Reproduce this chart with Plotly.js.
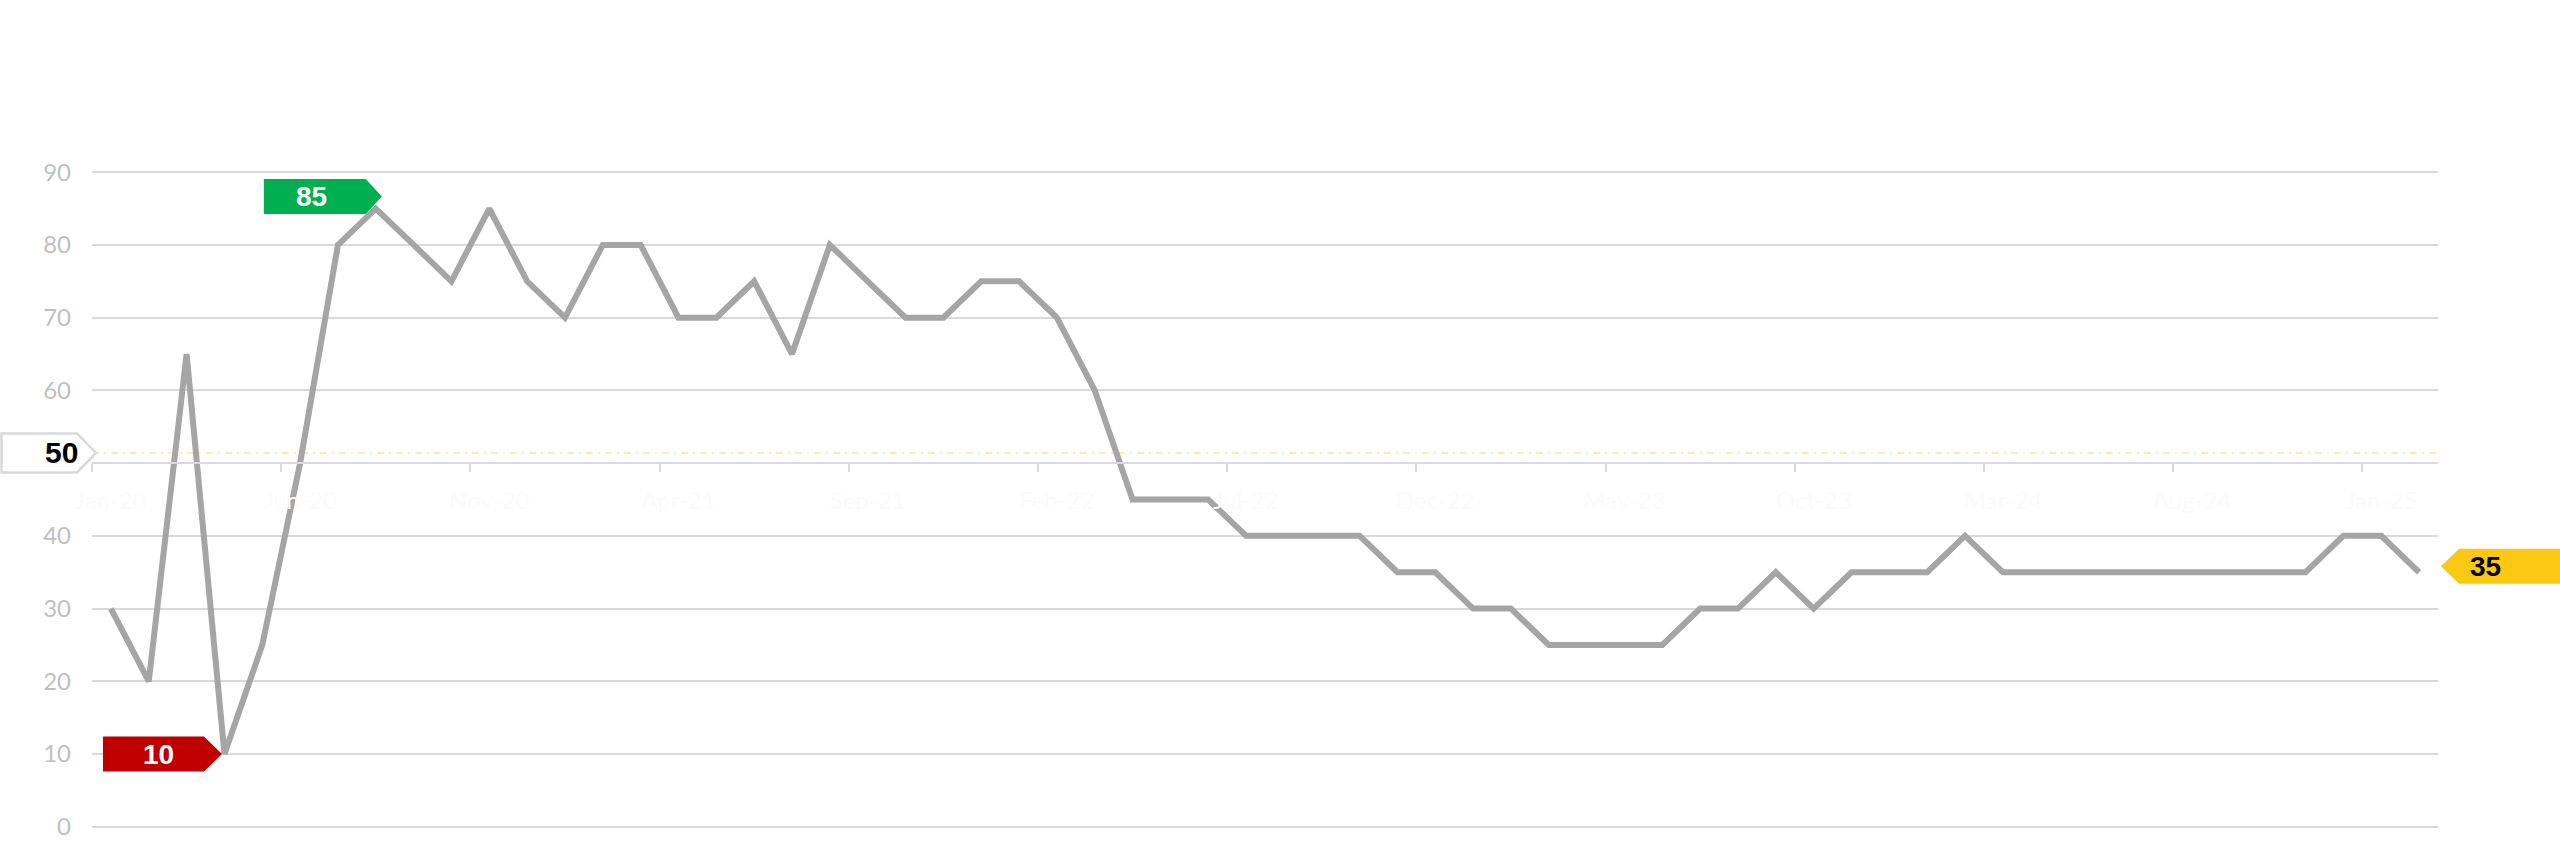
<!DOCTYPE html>
<html>
<head>
<meta charset="utf-8">
<script src="https://cdn.plot.ly/plotly-3.0.1.min.js"></script>
<style>
  html, body { margin: 0; padding: 0; background: #ffffff; }
  #chart { width: 2560px; height: 859px; }
</style>
</head>
<body>
<div id="chart"></div>
<script>
// monthly categories, Jan-20 .. Feb-25
const months = [
  'Jan-20', 'Feb-20', 'Mar-20', 'Apr-20', 'May-20', 'Jun-20', 'Jul-20', 'Aug-20', 'Sep-20', 'Oct-20', 'Nov-20', 'Dec-20',
  'Jan-21', 'Feb-21', 'Mar-21', 'Apr-21', 'May-21', 'Jun-21', 'Jul-21', 'Aug-21', 'Sep-21', 'Oct-21', 'Nov-21', 'Dec-21',
  'Jan-22', 'Feb-22', 'Mar-22', 'Apr-22', 'May-22', 'Jun-22', 'Jul-22', 'Aug-22', 'Sep-22', 'Oct-22', 'Nov-22', 'Dec-22',
  'Jan-23', 'Feb-23', 'Mar-23', 'Apr-23', 'May-23', 'Jun-23', 'Jul-23', 'Aug-23', 'Sep-23', 'Oct-23', 'Nov-23', 'Dec-23',
  'Jan-24', 'Feb-24', 'Mar-24', 'Apr-24', 'May-24', 'Jun-24', 'Jul-24', 'Aug-24', 'Sep-24', 'Oct-24', 'Nov-24', 'Dec-24',
  'Jan-25', 'Feb-25',
];

const scores = [
  30, 20, 65, 10, 25, 50, 80, 85, 80, 75, 85, 75,
  70, 80, 80, 70, 70, 75, 65, 80, 75, 70, 70, 75,
  75, 70, 60, 45, 45, 45, 40, 40, 40, 40, 35, 35,
  30, 30, 25, 25, 25, 25, 30, 30, 35, 30, 35, 35,
  35, 40, 35, 35, 35, 35, 35, 35, 35, 35, 35, 40,
  40, 35,
];

const yTickVals = [0, 10, 20, 30, 40, 60, 70, 80, 90];

// reference line (drawn a touch above the 50 axis line, label reads 50)
const refLevel = 51.4;
const refLabel = '50';

const yRange = [-0.3, 90.3];
const axisCross = 50;

const maxVal = Math.max(...scores);
const minVal = Math.min(...scores);
const maxIdx = scores.indexOf(maxVal);
const minIdx = scores.indexOf(minVal);
const lastIdx = scores.length - 1;

const data = [{
  x: months,
  y: scores,
  type: 'scatter',
  mode: 'lines',
  line: { color: '#a5a5a5', width: 6 },
  hoverinfo: 'x+y',
  cliponaxis: false,
}];

// pentagon callouts, pixel paths relative to an anchor point
function callout(xref, xa, ya, path, fill, border) {
  return {
    type: 'path',
    xref: xref,
    yref: 'y',
    xsizemode: 'pixel',
    ysizemode: 'pixel',
    xanchor: xa,
    yanchor: ya,
    path: path,
    fillcolor: fill,
    line: { color: border || fill, width: border ? 2.5 : 0 },
    layer: 'above',
  };
}

const shapes = [
  {
    type: 'line',
    xref: 'paper', x0: 0, x1: 1,
    yref: 'y', y0: refLevel, y1: refLevel,
    line: { color: '#fdeab4', width: 2, dash: '7px,5px,2px,5px' },
    layer: 'below',
  },
  // max label, points right
  callout('x', months[maxIdx], maxVal,
    'M -112,29.5 L -10,29.5 L 6,12 L -10,-5.5 L -112,-5.5 Z', '#00b050'),
  // min label, points right
  callout('x', months[minIdx], minVal,
    'M -121.5,17.5 L -20.5,17.5 L -2.5,0 L -20.5,-17.5 L -121.5,-17.5 Z', '#c00000'),
  // last value label, points left; sits past the plot edge so anchor on paper
  callout('paper', 1, scores[lastIdx],
    'M 3,6 L 21,23.5 L 160,23.5 L 160,-11.5 L 21,-11.5 Z', '#fbc812'),
  // reference label at the left edge
  callout('paper', 0, refLevel,
    'M -90.5,19.5 L -15,19.5 L 4,0 L -15,-19.5 L -90.5,-19.5 Z', '#ffffff', '#d9d9d9'),
];

const labelFont = { family: 'Liberation Sans, Arial, sans-serif', size: 28, weight: 700 };

const annotations = [
  {
    xref: 'x', yref: 'y', x: months[maxIdx], y: maxVal,
    text: String(maxVal), showarrow: false,
    xshift: -64, yshift: 12,
    font: Object.assign({}, labelFont, { color: '#ffffff' }),
  },
  {
    xref: 'x', yref: 'y', x: months[minIdx], y: minVal,
    text: String(minVal), showarrow: false,
    xshift: -66, yshift: 0,
    font: Object.assign({}, labelFont, { color: '#ffffff' }),
  },
  {
    xref: 'paper', yref: 'y', x: 1, y: scores[lastIdx],
    text: String(scores[lastIdx]), showarrow: false,
    xshift: 65, yshift: 6,
    font: Object.assign({}, labelFont, { color: '#000000' }),
  },
  {
    xref: 'paper', yref: 'y', x: 0, y: refLevel,
    text: refLabel, showarrow: false,
    xshift: -49, yshift: 0,
    font: Object.assign({}, labelFont, { size: 30, color: '#000000' }),
  },
];

const layout = {
  width: 2560,
  height: 859,
  margin: { l: 92, r: 122, t: 169.5, b: 30.1, pad: 0 },
  paper_bgcolor: '#ffffff',
  plot_bgcolor: '#ffffff',
  showlegend: false,
  hovermode: 'closest',
  xaxis: {
    type: 'category',
    range: [-0.5, months.length - 0.5],
    tickmode: 'linear',
    tick0: 0,
    dtick: 5,
    tickson: 'boundaries',
    ticks: 'outside',
    ticklen: 8,
    tickwidth: 2,
    tickcolor: '#d9d9d9',
    showline: true,
    linecolor: '#d9d9d9',
    linewidth: 2,
    showgrid: false,
    zeroline: false,
    anchor: 'free',
    position: (axisCross - yRange[0]) / (yRange[1] - yRange[0]),
    tickangle: 0,
    ticklabelstandoff: 16,
    tickfont: { family: 'Lato, sans-serif', size: 24, color: '#fbfbfb' },
    automargin: false,
  },
  yaxis: {
    range: yRange,
    tickmode: 'array',
    tickvals: yTickVals,
    showgrid: true,
    gridcolor: '#d9d9d9',
    gridwidth: 2,
    zeroline: false,
    showline: false,
    ticks: '',
    ticklabelstandoff: 20,
    tickfont: { family: 'Lato, sans-serif', size: 24, color: '#bfbfbf' },
    automargin: false,
  },
  shapes: shapes,
  annotations: annotations,
};

Plotly.newPlot('chart', data, layout, { displayModeBar: false, staticPlot: true });
</script>
</body>
</html>
